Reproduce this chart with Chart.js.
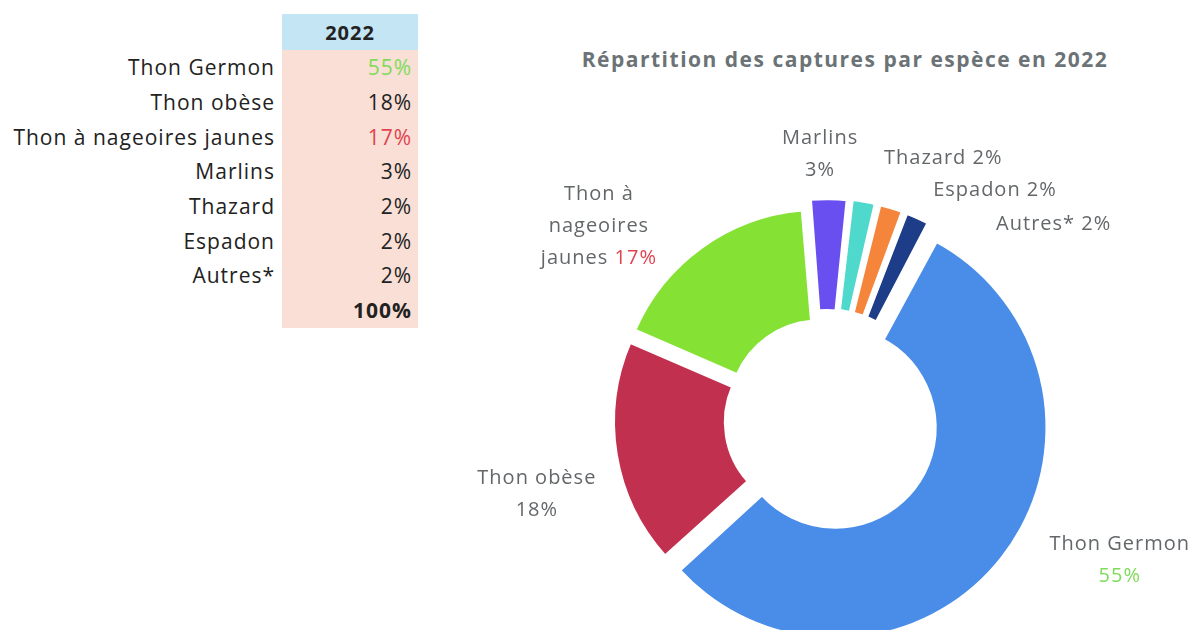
<!DOCTYPE html>
<html lang="fr">
<head>
<meta charset="utf-8">
<title>Répartition des captures par espèce en 2022</title>
<script src="https://cdn.jsdelivr.net/npm/chart.js@4.4.0/dist/chart.umd.min.js"></script>
<style>
    html, body { margin: 0; padding: 0; background: #fff; width: 1194px; height: 630px; overflow: hidden; }
    body { position: relative; font-family: "Open Sans", sans-serif; }
    #tableau { position: absolute; left: 0; top: 14px; border-collapse: collapse; font-size: 21px; letter-spacing: 1px; color: #222; }
    #tableau td { height: 34.7px; padding: 0; line-height: 34px; }
    #tableau td.nom { text-align: right; padding-right: 7px; width: 275px; }
    #tableau td.val { text-align: right; padding-right: 6px; width: 130px; background: #f9dfd5; }
    #tableau th { height: 34px; background: #c3e5f4; font-weight: 700; font-size: 20px; }
    #titre { position: absolute; left: 545px; width: 600px; top: 45px; text-align: center; font-weight: 700; font-size: 21px; letter-spacing: 1.5px; color: #6b7376; }
    #zone { position: absolute; left: 440px; top: 0; width: 754px; height: 650px; }
</style>
</head>
<body>
<table id="tableau"></table>
<div id="titre">Répartition des captures par espèce en 2022</div>
<div id="zone"><canvas id="myChart" width="754" height="650"></canvas></div>

<script>
// Datos
const especes = ["Thon Germon", "Thon obèse", "Thon à nageoires jaunes", "Marlins", "Thazard", "Espadon", "Autres*"];
const pourcentages = [55, 18, 17, 3, 2, 2, 2];
const totalTexte = "100%";
const annee = "2022";

// Estilos
const couleurs = ["#4a8de8", "#c2304f", "#85e234", "#6a4ff0", "#4fd8cc", "#f5853b", "#1d3d89"];
const couleursPct = ["#7fdc5a", "#222", "#e2434f", "#222", "#222", "#222", "#222"];
const couleursPctGraph = ["#7fdc5a", "#646769", "#e2434f", "#646769", "#646769", "#646769", "#646769"];
const decalAngle = [-12.5, -5.1, -13.9, -2, 14.3, 19.2, 24.9];
const distLabel = [126, 99, 99, 66.5, 87.5, 86, 101];

// Tabla
const tabla = document.getElementById("tableau");
let html = '<tr><th></th><th>' + annee + '</th></tr>';
especes.forEach((e, i) => {
    html += '<tr><td class="nom">' + e + '</td><td class="val" style="color:' + couleursPct[i] + '">' + pourcentages[i] + '%</td></tr>';
});
html += '<tr><td class="nom"></td><td class="val" style="font-weight:700">' + totalTexte + '</td></tr>';
tabla.innerHTML = html;
tabla.querySelector("th").style.background = "transparent";

// Lineas de cada etiqueta
function lignesLabel(i) {
    const pct = pourcentages[i] + "%";
    if (i === 2) {
        return [[["Thon à", null]], [["nageoires", null]], [["jaunes ", null], [pct, couleursPctGraph[i]]]];
    }
    if (i <= 1 || i === 3) {
        return [[[especes[i], null]], [[pct, couleursPctGraph[i]]]];
    }
    return [[[especes[i] + " ", null], [pct, couleursPctGraph[i]]]];
}

const etiquettes = {
    id: "etiquettes",
    afterDatasetsDraw(chart) {
        const ctx = chart.ctx;
        const meta = chart.getDatasetMeta(0);
        ctx.save();
        ctx.font = '20px "Open Sans", sans-serif';
        ctx.letterSpacing = "1px";
        ctx.textBaseline = "middle";
        ctx.textAlign = "left";
        meta.data.forEach((arc, i) => {
            const p = arc.getProps(["x", "y", "startAngle", "endAngle", "outerRadius"], true);
            const a = (p.startAngle + p.endAngle) / 2 + decalAngle[i] * Math.PI / 180;
            const d = p.outerRadius + distLabel[i];
            const cx = p.x + Math.cos(a) * d;
            const cy = p.y + Math.sin(a) * d;
            const lignes = lignesLabel(i);
            const hl = 32;
            lignes.forEach((morceaux, k) => {
                const larg = morceaux.reduce((s, m) => s + ctx.measureText(m[0]).width, 0);
                let x = cx - larg / 2;
                const y = cy + (k - (lignes.length - 1) / 2) * hl;
                morceaux.forEach(m => {
                    ctx.fillStyle = m[1] || "#646769";
                    ctx.fillText(m[0], x, y);
                    x += ctx.measureText(m[0]).width;
                });
            });
        });
        ctx.restore();
    }
};

// offset de Chart.js v4 se divide por 4 al dibujar: 48 -> 12px
new Chart(document.getElementById("myChart"), {
    type: "doughnut",
    data: {
        labels: especes,
        datasets: [{
            data: pourcentages,
            backgroundColor: couleurs,
            borderColor: "#fff",
            borderWidth: 3,
            offset: 48
        }]
    },
    options: {
        responsive: false,
        animation: false,
        rotation: 28,
        cutout: "44%",
        layout: { padding: { left: 161, right: 143, top: 195, bottom: 5 } },
        plugins: {
            legend: { display: false },
            tooltip: { enabled: false }
        }
    },
    plugins: [etiquettes]
});
</script>
</body>
</html>
